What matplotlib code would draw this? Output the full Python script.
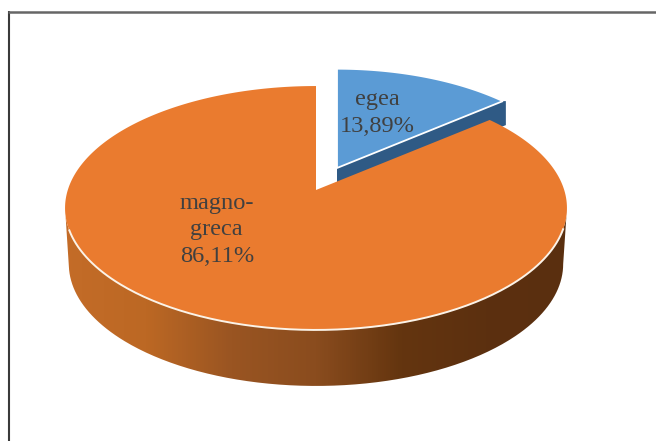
import numpy as np
import matplotlib
matplotlib.use("Agg")
import matplotlib.pyplot as plt
from matplotlib.path import Path
from matplotlib.patches import PathPatch, Polygon
from matplotlib.colors import LinearSegmentedColormap

categories = ["egea", "magno-\ngreca"]
shares = [13.89, 86.11]
share_labels = ["13,89%", "86,11%"]

W, H = 656, 441
fig = plt.figure(figsize=(W / 100, H / 100), dpi=100, facecolor="white")
ax = fig.add_axes([0, 0, 1, 1])
ax.set_xlim(0, W)
ax.set_ylim(H, 0)
ax.axis("off")

# pseudo-3D projection of a tilted pie
CX, CY, A, B, K = 316, 190, 248.2, 119.3, 0.1475
DEPTH = 56


def project(theta):
    u, v = np.sin(theta), np.cos(theta)
    d = 1 + K * v
    return CX + A * u / d, CY - B * v / d


split = 2 * np.pi * shares[0] / sum(shares)

# frame
ax.plot([8.5, 8.5], [H, 11], color="#3a3a3a", lw=1.5, solid_capstyle="butt")
ax.plot([8, W], [11.5, 11.5], color="#666666", lw=1.8, solid_capstyle="butt")

# egea wedge: exploded and slightly shrunk
t = np.linspace(0, split, 60)
x, y = project(t)
SC, DX, DY = 0.955, 21, -22
ex = CX + DX + (x - CX) * SC
ey = CY + DY + (y - CY) * SC
apex = (CX + DX, CY + DY)
top_pts = np.column_stack([np.r_[apex[0], ex], np.r_[apex[1], ey]])
EDEPTH = 24
side = np.array([[ex[-1], ey[-1]], [ex[-1] + 3, ey[-1]], [ex[-1] + 3, ey[-1] + EDEPTH],
                 [apex[0], apex[1] + EDEPTH], [apex[0], apex[1]]])
ax.add_patch(Polygon(side, closed=True, fc="#2F5A85", ec="none", zorder=2))
ax.add_patch(Polygon(top_pts, closed=True, fc="#5B9BD5", ec="white", lw=1.3, zorder=3))

# magno-greca side with horizontal gradient
full = np.linspace(0, 2 * np.pi, 721)
fx, fy = project(full)
left, right = fx.argmin(), fx.argmax()
low = np.linspace(full[right], full[left], 300)
lx, ly = project(low)
bx = CX + (lx - CX) * 0.985
by = ly + DEPTH
vx = np.r_[lx, bx[::-1]]
vy = np.r_[ly, by[::-1]]
clip = PathPatch(Path(np.column_stack([vx, vy]), closed=False), fc="none", ec="none", transform=ax.transData)
ax.add_patch(clip)
cmap = LinearSegmentedColormap.from_list(
    "side", ["#C46C28", "#BC6824", "#9A5522", "#8A4C1E", "#64350F", "#5C300F", "#5A2F10"])
grad = np.linspace(0, 1, 256)[None, :]
im = ax.imshow(grad, extent=[60, 572, 395, 200], cmap=cmap, aspect="auto", zorder=4)
im.set_clip_path(clip)
ax.set_xlim(0, W)
ax.set_ylim(H, 0)

# magno-greca top
t = np.linspace(split, 2 * np.pi, 400)
x, y = project(t)
px = np.r_[CX, x]
py = np.r_[CY, y]
ax.add_patch(Polygon(np.column_stack([px, py]), closed=True, fc="#EA7B2F", ec="none", zorder=5))
front = (t > np.pi * 0.6) & (t < np.pi * 1.4)
ax.plot(x[front], y[front], color="#FBF3E8", lw=1.4, zorder=6)

# labels
txt = dict(family="Liberation Serif", fontsize=17.6, color="#404040", ha="center", va="center", zorder=7)
ax.text(377, 99, categories[0], **txt)
ax.text(377, 126, share_labels[0], **txt)
first, second = categories[1].split("\n")
ax.text(217, 204, first, **txt)
ax.text(216, 229, second, **txt)
ax.text(217, 257, share_labels[1], **txt)

fig.savefig("out.png", dpi=100, facecolor="white")
